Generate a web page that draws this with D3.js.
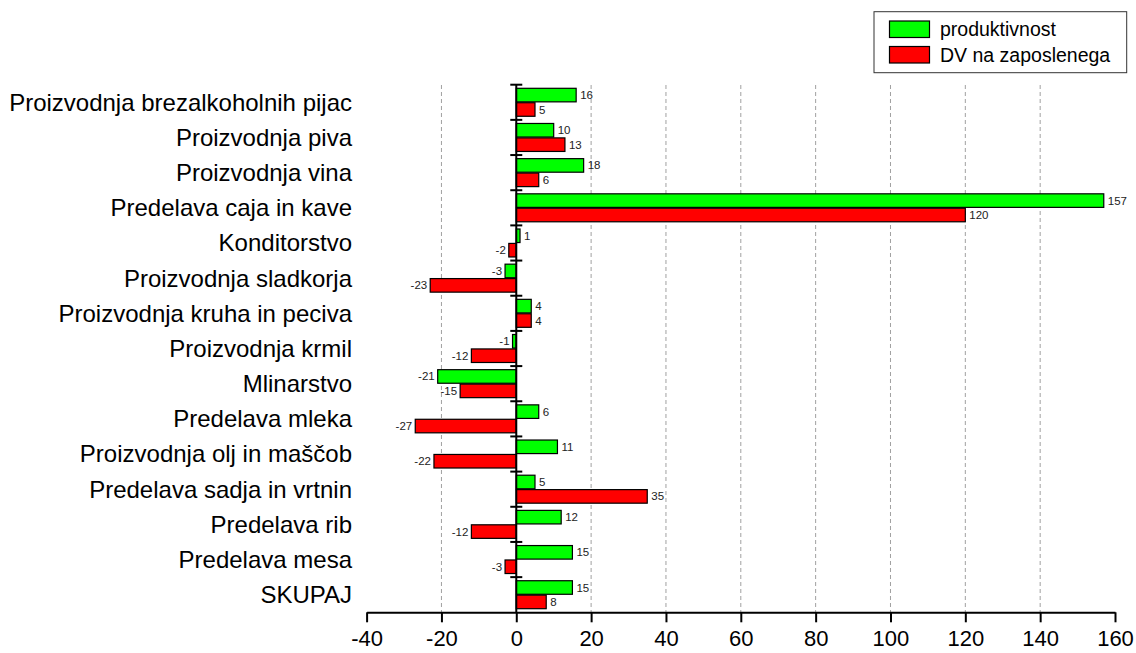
<!DOCTYPE html>
<html>
<head>
<meta charset="utf-8">
<script src="https://cdn.jsdelivr.net/npm/d3@7"></script>
<style>
  html, body { margin: 0; padding: 0; background: #fff; }
  svg { display: block; font-family: "Liberation Sans", Arial, sans-serif; }
</style>
</head>
<body>
<svg id="chart" width="1136" height="653"></svg>
<script>
const categories = [
  "Proizvodnja brezalkoholnih pijac",
  "Proizvodnja piva",
  "Proizvodnja vina",
  "Predelava caja in kave",
  "Konditorstvo",
  "Proizvodnja sladkorja",
  "Proizvodnja kruha in peciva",
  "Proizvodnja krmil",
  "Mlinarstvo",
  "Predelava mleka",
  "Proizvodnja olj in maščob",
  "Predelava sadja in vrtnin",
  "Predelava rib",
  "Predelava mesa",
  "SKUPAJ"
];
const produktivnost = [16, 10, 18, 157, 1, -3, 4, -1, -21, 6, 11, 5, 12, 15, 15];
const dvNaZaposlenega = [5, 13, 6, 120, -2, -23, 4, -12, -15, -27, -22, 35, -12, -3, 8];
const seriesNames = ["produktivnost", "DV na zaposlenega"];
const seriesColors = ["#00ff00", "#ff0000"];
const xTicks = [-40, -20, 0, 20, 40, 60, 80, 100, 120, 140, 160];
const gridTicks = [-20, 20, 40, 60, 80, 100, 120, 140];

const seriesValues = [produktivnost, dvNaZaposlenega];

const svg = d3.select("#chart");
const x = d3.scaleLinear().domain([-40, 160]).range([366.6, 1115]);
const y = d3.scaleBand().domain(categories).range([84.7, 612.3]).padding(0);
const ySub = d3.scaleBand().domain(seriesNames).range([3.6, y.bandwidth() - 3.6]).paddingInner(0.06);

// gridlines
svg.append("g").selectAll("line").data(gridTicks).join("line")
  .attr("x1", d => x(d)).attr("x2", d => x(d))
  .attr("y1", 85).attr("y2", 612.3)
  .attr("stroke", "#a0a0a0").attr("stroke-width", 1)
  .attr("stroke-dasharray", "4,3");

// bars
const rows = svg.append("g").selectAll("g").data(categories).join("g")
  .attr("transform", d => `translate(0,${y(d)})`);

seriesNames.forEach((s, si) => {
  rows.append("rect")
    .attr("x", (d, i) => x(Math.min(0, seriesValues[si][i])))
    .attr("y", ySub(s))
    .attr("width", (d, i) => Math.abs(x(seriesValues[si][i]) - x(0)))
    .attr("height", ySub.bandwidth())
    .attr("fill", seriesColors[si])
    .attr("stroke", "#000").attr("stroke-width", 1.2);
  rows.append("text")
    .attr("x", (d, i) => {
      const v = seriesValues[si][i];
      return v >= 0 ? x(v) + 4 : x(v) - 3;
    })
    .attr("y", ySub(s) + ySub.bandwidth() / 2)
    .attr("dy", "0.35em")
    .attr("text-anchor", (d, i) => seriesValues[si][i] >= 0 ? "start" : "end")
    .attr("font-size", 11.5)
    .attr("fill", "#222")
    .text((d, i) => seriesValues[si][i]);
});

// category labels
svg.append("g").selectAll("text").data(categories).join("text")
  .attr("x", 352)
  .attr("y", d => y(d) + y.bandwidth() / 2)
  .attr("dy", "0.35em")
  .attr("text-anchor", "end")
  .attr("font-size", 24)
  .attr("fill", "#000")
  .text(d => d);

// y axis at 0
const yAxisG = svg.append("g");
yAxisG.append("line")
  .attr("x1", x(0)).attr("x2", x(0))
  .attr("y1", y.range()[0]).attr("y2", y.range()[1])
  .attr("stroke", "#000").attr("stroke-width", 2);
const yTickPos = categories.map(c => y(c));
yAxisG.selectAll("line.tick").data(yTickPos).join("line")
  .attr("class", "tick")
  .attr("x1", x(0) - 6).attr("x2", x(0) + 6)
  .attr("y1", d => d).attr("y2", d => d)
  .attr("stroke", "#000").attr("stroke-width", 2);

// x axis
const xAxis = d3.axisBottom(x).tickValues(xTicks).tickFormat(d => String(d))
  .tickSize(10).tickPadding(8).tickSizeOuter(0);
const xg = svg.append("g").attr("transform", `translate(0,${y.range()[1]})`).call(xAxis);
xg.select(".domain").attr("stroke", "#000").attr("stroke-width", 2);
xg.selectAll(".tick line").attr("stroke", "#000").attr("stroke-width", 2);
xg.selectAll(".tick text").attr("font-size", 22).attr("fill", "#000")
  .attr("font-family", "Liberation Sans, Arial, sans-serif");

// legend
const lg = svg.append("g");
lg.append("rect").attr("x", 874).attr("y", 11.7).attr("width", 252.7).attr("height", 61)
  .attr("fill", "#fff").attr("stroke", "#333").attr("stroke-width", 1);
seriesNames.forEach((s, i) => {
  lg.append("rect").attr("x", 889.5).attr("y", 21 + i * 25.5).attr("width", 40).attr("height", 16.5)
    .attr("fill", seriesColors[i]).attr("stroke", "#000").attr("stroke-width", 1.2);
  lg.append("text").attr("x", 940).attr("y", 29.5 + i * 25.5).attr("dy", "0.35em")
    .attr("font-size", 19.5).attr("fill", "#000").text(s);
});
</script>
</body>
</html>
